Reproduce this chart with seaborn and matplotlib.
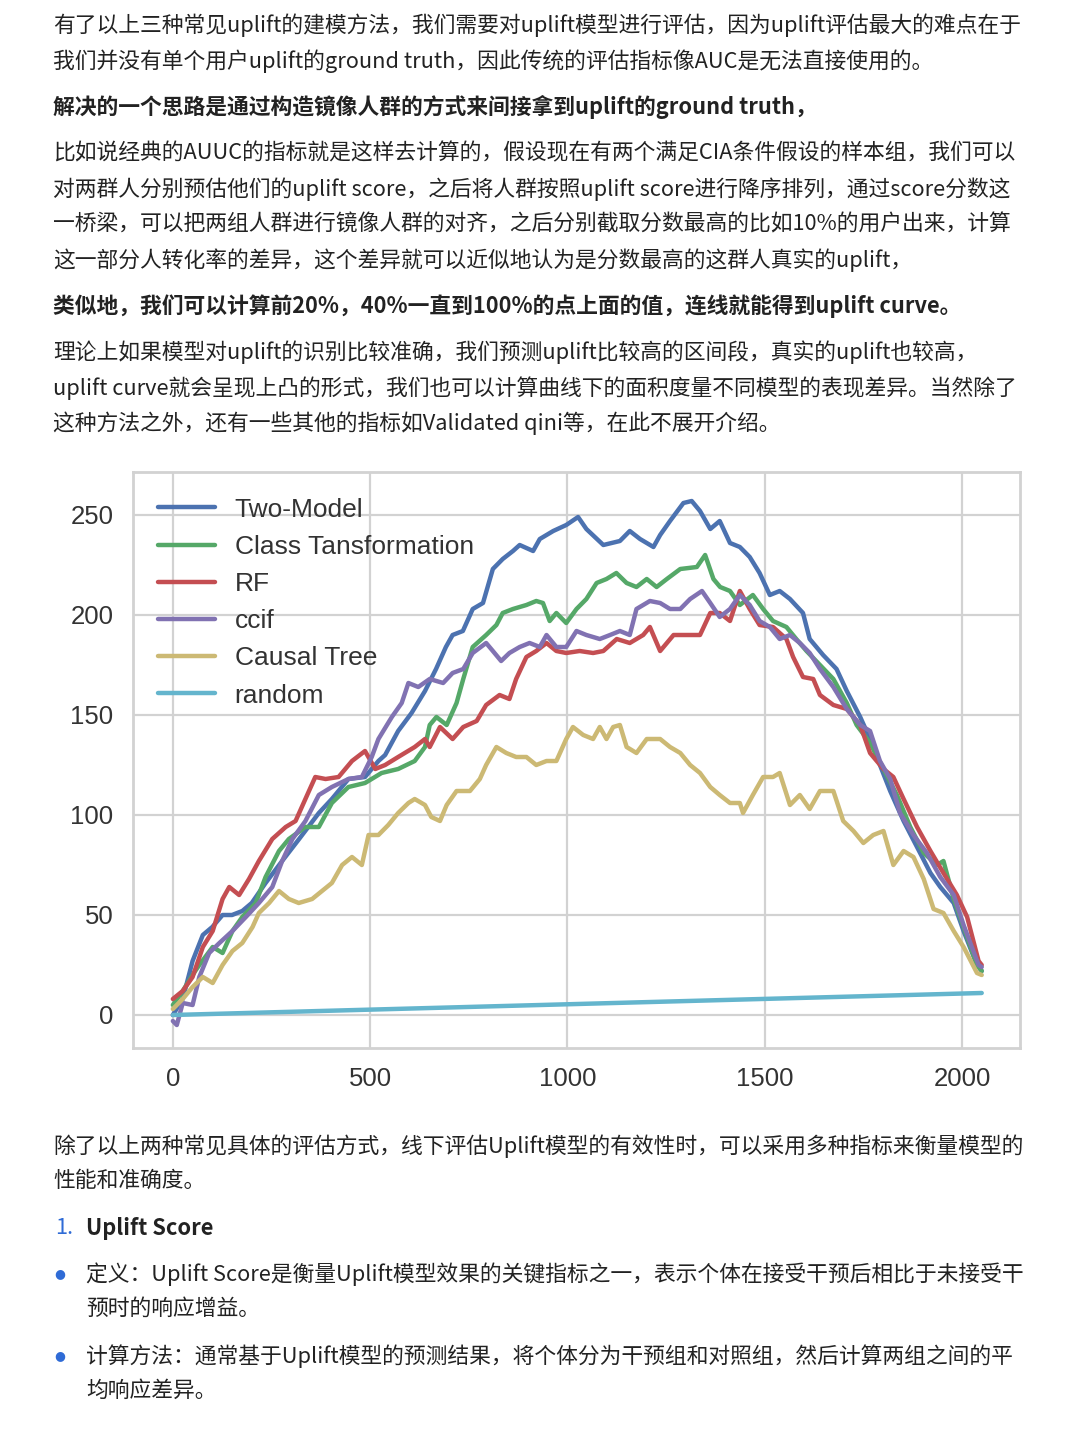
import matplotlib
matplotlib.use("Agg")
import matplotlib.pyplot as plt
import seaborn as sns
import pandas as pd

# ---------------- data ----------------
two_model_x = [0, 25, 50, 76, 100, 126, 150, 176, 200, 235, 277, 320, 370, 403, 445, 487, 521, 538, 571, 605,
               639, 667, 692, 709, 735, 760, 786, 811, 836, 862, 879, 913, 930, 964, 997, 1027, 1048, 1091, 1133,
               1158, 1184, 1218, 1235, 1260, 1294, 1315, 1336, 1362, 1386, 1412, 1437, 1462, 1487, 1513, 1538,
               1564, 1597, 1614, 1648, 1682, 1708, 1742, 1767, 1792, 1818, 1852, 1886, 1920, 1945, 1979, 2004,
               2038, 2050]
two_model_y = [0, 8, 27, 40, 44, 50, 50, 52, 56, 66, 77, 88, 101, 108, 118, 119, 127, 130, 142, 151,
               162, 173, 184, 190, 192, 203, 206, 223, 228, 232, 235, 232, 238, 242, 245, 249, 243, 235, 237,
               242, 238, 234, 240, 247, 256, 257, 252, 243, 247, 236, 234, 229, 221, 210, 212,
               208, 201, 188, 180, 173, 162, 149, 138, 125, 112, 97, 84, 71, 64, 56, 42,
               25, 22]

class_trans_x = [0, 25, 50, 67, 101, 126, 151, 176, 210, 235, 269, 294, 336, 370, 403, 445, 487, 529, 571, 613,
                 639, 651, 668, 694, 719, 736, 760, 794, 820, 836, 862, 896, 921, 938, 955, 972, 997, 1023, 1048,
                 1074, 1099, 1124, 1150, 1175, 1201, 1226, 1252, 1286, 1328, 1349, 1370, 1387, 1412, 1437, 1470,
                 1496, 1521, 1555, 1580, 1606, 1640, 1674, 1708, 1733, 1767, 1801, 1835, 1869, 1903, 1937, 1953,
                 1979, 2004, 2038, 2050]
class_trans_y = [5, 12, 20, 25, 34, 31, 42, 49, 56, 69, 82, 88, 94, 94, 106, 114, 116, 121, 123, 127,
                 134, 145, 149, 145, 156, 168, 184, 190, 195, 201, 203, 205, 207, 206, 197, 201, 196, 203, 208,
                 216, 218, 221, 216, 214, 218, 214, 218, 223, 224, 230, 218, 214, 212, 205, 210,
                 203, 197, 194, 188, 182, 175, 168, 156, 145, 136, 123, 110, 94, 81, 75, 77,
                 58, 44, 25, 22]

rf_x = [0, 25, 50, 76, 101, 126, 143, 168, 193, 218, 252, 286, 311, 345, 361, 387, 420, 454, 487, 513,
        538, 571, 613, 639, 651, 677, 709, 736, 770, 794, 828, 853, 870, 896, 921, 947, 972, 997, 1031,
        1065, 1091, 1125, 1158, 1192, 1209, 1235, 1269, 1303, 1336, 1362, 1386, 1412, 1437, 1462, 1487,
        1521, 1555, 1572, 1597, 1623, 1640, 1674, 1708, 1742, 1767, 1801, 1826, 1852, 1886, 1920, 1953,
        1987, 2013, 2042, 2050]
rf_y = [8, 12, 19, 34, 42, 58, 64, 60, 68, 77, 88, 94, 97, 112, 119, 118, 119, 127, 132, 123,
        125, 129, 134, 138, 134, 144, 138, 144, 147, 155, 160, 158, 168, 179, 182, 186, 182, 181, 182,
        181, 182, 188, 186, 190, 194, 182, 190, 190, 190, 201, 201, 197, 212, 203, 195,
        194, 188, 179, 169, 168, 160, 155, 153, 145, 131, 123, 119, 108, 94, 82, 71,
        60, 49, 27, 25]

ccif_x = [0, 10, 25, 50, 67, 92, 118, 151, 185, 218, 252, 277, 303, 336, 370, 403, 445, 479, 504, 521,
          555, 580, 597, 622, 651, 685, 709, 736, 760, 794, 811, 832, 853, 879, 904, 930, 947, 972, 997,
          1023, 1048, 1082, 1108, 1133, 1158, 1175, 1209, 1235, 1260, 1286, 1311, 1341, 1362, 1386, 1412,
          1437, 1462, 1487, 1513, 1538, 1564, 1589, 1614, 1640, 1674, 1708, 1742, 1767, 1792, 1818, 1843,
          1877, 1911, 1945, 1979, 2004, 2042, 2050]
ccif_y = [-3, -5, 6, 5, 19, 31, 36, 42, 49, 56, 64, 77, 88, 97, 110, 114, 118, 119, 129, 138,
          149, 156, 166, 164, 168, 166, 171, 173, 181, 186, 182, 177, 181, 184, 186, 184, 190, 184, 184,
          192, 190, 188, 190, 192, 190, 203, 207, 206, 203, 203, 208, 212, 206, 199, 203,
          210, 205, 197, 194, 188, 190, 186, 181, 173, 164, 153, 145, 142, 127, 118, 101,
          90, 81, 69, 60, 45, 25, 24]

causal_tree_x = [0, 25, 50, 76, 101, 126, 151, 176, 202, 218, 244, 269, 294, 319, 353, 378, 403, 429, 454, 479,
                 496, 521, 546, 571, 597, 613, 639, 655, 677, 694, 719, 753, 778, 794, 820, 845, 870, 896, 921,
                 947, 972, 997, 1014, 1040, 1065, 1082, 1099, 1116, 1133, 1150, 1175, 1201, 1235, 1260, 1286,
                 1311, 1336, 1362, 1386, 1412, 1437, 1445, 1470, 1496, 1521, 1538, 1564, 1589, 1614, 1640, 1674,
                 1699, 1725, 1750, 1775, 1801, 1826, 1852, 1877, 1903, 1928, 1953, 1979, 2004, 2038, 2050]
causal_tree_y = [3, 8, 14, 19, 16, 25, 32, 36, 44, 51, 56, 62, 58, 56, 58, 62, 66, 75, 79, 75,
                 90, 90, 95, 101, 106, 108, 105, 99, 97, 105, 112, 112, 118, 125, 134, 131, 129, 129, 125,
                 127, 127, 138, 144, 140, 138, 144, 138, 144, 145, 134, 131, 138, 138, 134, 131,
                 125, 121, 114, 110, 106, 106, 101, 110, 119, 119, 121, 105, 110, 103, 112, 112,
                 97, 92, 86, 90, 92, 75, 82, 79, 68, 53, 51, 42, 34, 21, 20]

random_x = [0, 2050]
random_y = [0, 11]

series_names = ["Two-Model", "Class Tansformation", "RF", "ccif", "Causal Tree", "random"]
series_x = [two_model_x, class_trans_x, rf_x, ccif_x, causal_tree_x, random_x]
series_y = [two_model_y, class_trans_y, rf_y, ccif_y, causal_tree_y, random_y]
palette = ["#4C72B0", "#55A868", "#C44E52", "#8172B2", "#CCB974", "#64B5CD"]

x_ticks = [0, 500, 1000, 1500, 2000]
y_ticks = [0, 50, 100, 150, 200, 250]

# ---------------- figure ----------------
W, H = 1080, 1440
sns.set_style("whitegrid", {"grid.color": "#d2d2d2", "axes.edgecolor": "#d2d2d2"})
plt.rcParams["font.family"] = ["Noto Sans CJK SC", "DejaVu Sans"]

fig = plt.figure(figsize=(W / 100, H / 100), dpi=100)
fig.patch.set_facecolor("white")

CJK = ["Noto Sans CJK SC", "DejaVu Sans"]
TXT = "#222222"
FS = 15.7


def ptext(xpx, ypx, s, bold=False, color=TXT, fs=FS, family=CJK):
    fig.text(xpx / W, 1 - ypx / H, s, ha="left", va="center", fontsize=fs,
             family=family, color=color, fontweight="bold" if bold else "normal")


top_lines = [
    (25, "有了以上三种常见uplift的建模方法，我们需要对uplift模型进行评估，因为uplift评估最大的难点在于", False),
    (61, "我们并没有单个用户uplift的ground truth，因此传统的评估指标像AUC是无法直接使用的。", False),
    (107, "解决的一个思路是通过构造镜像人群的方式来间接拿到uplift的ground truth，", True),
    (153, "比如说经典的AUUC的指标就是这样去计算的，假设现在有两个满足CIA条件假设的样本组，我们可以", False),
    (189, "对两群人分别预估他们的uplift score，之后将人群按照uplift score进行降序排列，通过score分数这", False),
    (224, "一桥梁，可以把两组人群进行镜像人群的对齐，之后分别截取分数最高的比如10%的用户出来，计算", False),
    (260, "这一部分人转化率的差异，这个差异就可以近似地认为是分数最高的这群人真实的uplift，", False),
    (306, "类似地，我们可以计算前20%，40%一直到100%的点上面的值，连线就能得到uplift curve。", True),
    (352, "理论上如果模型对uplift的识别比较准确，我们预测uplift比较高的区间段，真实的uplift也较高，", False),
    (388, "uplift curve就会呈现上凸的形式，我们也可以计算曲线下的面积度量不同模型的表现差异。当然除了", False),
    (423, "这种方法之外，还有一些其他的指标如Validated qini等，在此不展开介绍。", False),
    (1146, "除了以上两种常见具体的评估方式，线下评估Uplift模型的有效性时，可以采用多种指标来衡量模型的", False),
    (1181, "性能和准确度。", False),
]
for ypx, s, b in top_lines:
    ptext(53, ypx, s, bold=b)

BLUE = "#2f6bd6"
ptext(55, 1228, "1.", color=BLUE)
ptext(86, 1228, "Uplift Score", bold=True)
ptext(54, 1274, "●", color=BLUE, fs=9, family=["DejaVu Sans"])
ptext(86, 1274, "定义：Uplift Score是衡量Uplift模型效果的关键指标之一，表示个体在接受干预后相比于未接受干")
ptext(86, 1309, "预时的响应增益。")
ptext(54, 1356, "●", color=BLUE, fs=9, family=["DejaVu Sans"])
ptext(86, 1356, "计算方法：通常基于Uplift模型的预测结果，将个体分为干预组和对照组，然后计算两组之间的平")
ptext(86, 1391, "均响应差异。")

# ---------------- chart ----------------
ax_l, ax_r, ax_t, ax_b = 133, 1020, 472, 1048
ax = fig.add_axes([ax_l / W, 1 - ax_b / H, (ax_r - ax_l) / W, (ax_b - ax_t) / H])
ax.set_facecolor("white")

for name, xs, ys, c in zip(series_names, series_x, series_y, palette):
    df = pd.DataFrame({"x": xs, "y": ys})
    sns.lineplot(data=df, x="x", y="y", color=c, linewidth=3.2, label=name,
                 ax=ax, sort=False, estimator=None)

ax.set_xlim(-101, 2147)
ax.set_ylim(-16.5, 271.5)
ax.set_xticks(x_ticks)
ax.set_yticks(y_ticks)
ax.set_xticklabels([str(v) for v in x_ticks], family=["Liberation Sans", "DejaVu Sans"])
ax.set_yticklabels([str(v) for v in y_ticks], family=["Liberation Sans", "DejaVu Sans"])
ax.tick_params(axis="both", labelsize=18.5, labelcolor="#333333", length=0)
ax.tick_params(axis="x", pad=14)
ax.tick_params(axis="y", pad=14)
ax.set_xlabel("")
ax.set_ylabel("")
ax.grid(True, color="#d2d2d2", linewidth=1.6)
for sp in ax.spines.values():
    sp.set_visible(True)
    sp.set_color("#d2d2d2")
    sp.set_linewidth(2)

leg = ax.legend(loc="upper left", bbox_to_anchor=(0.006, 0.99), frameon=False,
                prop={"family": ["Liberation Sans", "DejaVu Sans"], "size": 19},
                handlelength=2.15, handletextpad=0.75, labelspacing=0.5,
                borderaxespad=0.35)
for t in leg.get_texts():
    t.set_color("#333333")
for h in leg.get_lines():
    h.set_linewidth(3.2)

fig.savefig("out.png", dpi=100, facecolor="white")
